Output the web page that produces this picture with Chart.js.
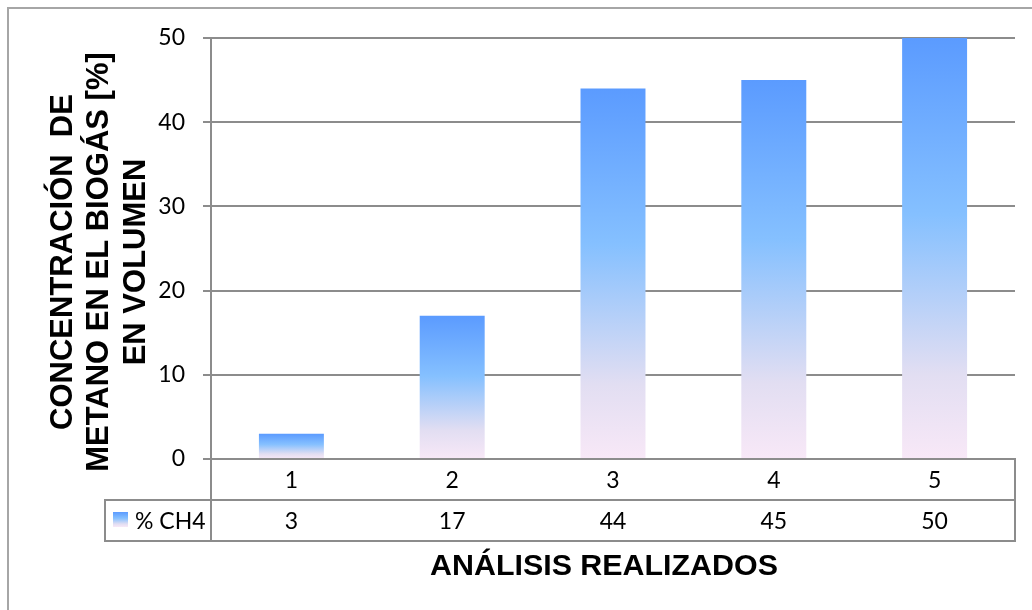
<!DOCTYPE html>
<html>
<head>
<meta charset="utf-8">
<script src="https://cdn.jsdelivr.net/npm/chart.js@4.4.1/dist/chart.umd.min.js"></script>
<style>
  html, body { margin: 0; padding: 0; background: #fff; }
  canvas { display: block; }
</style>
</head>
<body>
<canvas id="c" width="1032" height="610"></canvas>
<script>
// Methane content of the biogas per analysis
const categories = ['1', '2', '3', '4', '5'];
const ch4Percent = [3, 17, 44, 45, 50];
const seriesName = '% CH4';
const yTicks = [0, 10, 20, 30, 40, 50];
const yTitleLines = ['CONCENTRACIÓN  DE', 'METANO EN EL BIOGÁS [%]', 'EN VOLUMEN'];
const xTitle = 'ANÁLISIS REALIZADOS';

const LINE = '#8c8c8c';
const TICK_FONT = { family: 'Lato', size: 23 };
const TICK_CSS = '23px Lato';
const Y_TITLE_CSS = 'bold 31px "Liberation Sans", Arial, sans-serif';
const X_TITLE_CSS = 'bold 30.4px "Liberation Sans", Arial, sans-serif';
const ROW_H = 41;

function barGradient(ctx, top, bottom) {
  const g = ctx.createLinearGradient(0, top, 0, bottom);
  g.addColorStop(0, '#5b9bff');
  g.addColorStop(0.42, '#85c0ff');
  g.addColorStop(0.8, '#e2def2');
  g.addColorStop(1, '#f8e8f7');
  return g;
}

// Data table under the plot, axis titles and frame
const tablePlugin = {
  id: 'dataTable',
  afterDraw(chart) {
    const ctx = chart.ctx;
    const area = chart.chartArea;
    const xs = chart.scales.x;
    const L = area.left, R = area.right, B = area.bottom;
    const r1 = B + ROW_H, r2 = B + 2 * ROW_H;
    const legendLeft = 105;

    ctx.save();
    // outer frame
    ctx.strokeStyle = '#a6a6a6';
    ctx.lineWidth = 2;
    ctx.strokeRect(8, 8, 1060, 640);

    // table grid
    ctx.strokeStyle = LINE;
    ctx.lineWidth = 2;
    ctx.beginPath();
    ctx.moveTo(L, B); ctx.lineTo(L, r2 + 1);
    ctx.moveTo(R, B - 1); ctx.lineTo(R, r2 + 1);
    ctx.moveTo(legendLeft, r1); ctx.lineTo(R + 1, r1);
    ctx.moveTo(legendLeft, r2); ctx.lineTo(R + 1, r2);
    ctx.moveTo(legendLeft, r1 - 1); ctx.lineTo(legendLeft, r2 + 1);
    ctx.stroke();

    // category labels and values
    ctx.fillStyle = '#000';
    ctx.font = TICK_CSS;
    ctx.textAlign = 'center';
    ctx.textBaseline = 'middle';
    categories.forEach((c, i) => {
      const x = xs.getPixelForValue(i);
      ctx.fillText(c, x, B + ROW_H / 2 + 1);
      ctx.fillText(String(ch4Percent[i]), x, r1 + ROW_H / 2 + 1);
    });

    // legend key
    const sy = r1 + 12;
    ctx.fillStyle = barGradient(ctx, sy, sy + 15);
    ctx.fillRect(113, sy, 15, 15);
    ctx.fillStyle = '#000';
    ctx.textAlign = 'left';
    ctx.fillText(seriesName, 135, r1 + ROW_H / 2 + 1);

    // axis titles
    ctx.textAlign = 'center';
    ctx.textBaseline = 'alphabetic';
    ctx.font = X_TITLE_CSS;
    ctx.fillText(xTitle, 604, 575);

    ctx.font = Y_TITLE_CSS;
    const baselines = [72, 108, 145];
    yTitleLines.forEach((t, i) => {
      ctx.save();
      ctx.translate(baselines[i], 262);
      ctx.rotate(-Math.PI / 2);
      ctx.fillText(t, 0, 0);
      ctx.restore();
    });
    ctx.restore();
  }
};

const chart = new Chart(document.getElementById('c'), {
  type: 'bar',
  data: {
    labels: categories,
    datasets: [{
      label: seriesName,
      data: ch4Percent,
      borderWidth: 0,
      categoryPercentage: 1,
      barPercentage: 0.404,
      backgroundColor: (c) => {
        const ch = c.chart;
        const y = ch.scales && ch.scales.y;
        if (!ch.chartArea || !y || c.type !== 'data') return '#7fb6ff';
        const v = c.parsed ? c.parsed.y : c.raw;
        return barGradient(ch.ctx, y.getPixelForValue(v), y.getPixelForValue(0));
      }
    }]
  },
  options: {
    responsive: false,
    animation: false,
    layout: { padding: { top: 38, right: 17, bottom: 0, left: 0 } },
    plugins: {
      legend: { display: false },
      tooltip: { enabled: false },
      title: { display: false }
    },
    scales: {
      x: {
        grid: { display: false, drawTicks: false },
        ticks: { display: false },
        border: { display: false },
        afterFit: (s) => { s.height = 151; }
      },
      y: {
        min: 0,
        max: 50,
        afterBuildTicks: (s) => { s.ticks = yTicks.map(v => ({ value: v })); },
        ticks: { font: TICK_FONT, color: '#000', padding: 18 },
        grid: { color: LINE, lineWidth: 2, tickLength: 8 },
        border: { display: true, color: LINE, width: 2 },
        afterFit: (s) => { s.width = 211; }
      }
    }
  },
  plugins: [tablePlugin]
});
</script>
</body>
</html>
